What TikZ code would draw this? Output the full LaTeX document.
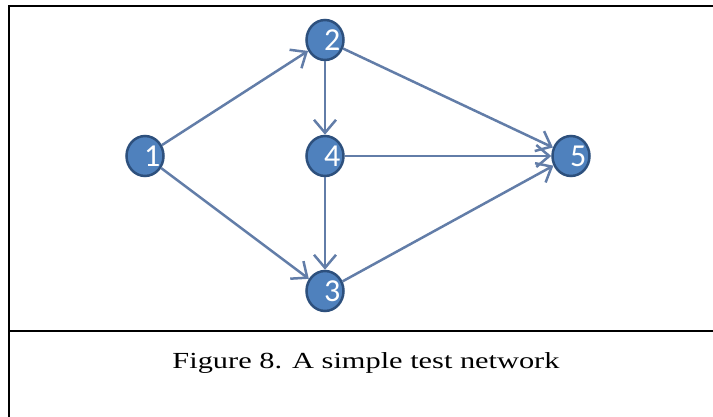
\documentclass[tikz,border=0pt]{standalone}
\usepackage{fontspec}
\setmainfont{Liberation Serif}
\newfontfamily\numfont{Carlito}
\usetikzlibrary{arrows.meta,shapes.geometric}
\definecolor{nodeblue}{RGB}{79,129,189}
\definecolor{nodeedge}{RGB}{45,80,125}
\definecolor{arcblue}{RGB}{98,125,168}
\newcommand{\vlabel}[1]{\makebox[0pt][l]{\kern-1pt #1}}

\begin{document}
\begin{tikzpicture}[x=1pt,y=-1pt,
  vertex/.style={ellipse,minimum width=37pt,minimum height=40pt,inner sep=0pt,fill=nodeblue,draw=nodeedge,line width=2.5pt,text=white,font=\numfont\fontsize{32}{32}\selectfont},
  arc/.style={draw=arcblue,line width=2.5pt,-{Straight Barb[length=13pt,width=22pt,line width=2.5pt]}},
  frame/.style={line width=2pt,black}]
\useasboundingbox (0,0) rectangle (713,417);
\draw[frame] (9,417) -- (9,6) -- (713,6);
\draw[frame] (9,331) -- (713,331);
\node[vertex] (n1) at (145,156) {\vlabel{1}};
\node[vertex] (n2) at (325,40) {\vlabel{2}};
\node[vertex] (n4) at (325,156) {\vlabel{4}};
\node[vertex] (n3) at (325,291) {\vlabel{3}};
\node[vertex] (n5) at (571,156) {\vlabel{5}};
\draw[arc] (n1) -- (n2);
\draw[arc] (n1) -- (n3);
\draw[arc] (n2) -- (n4);
\draw[arc] (n2) -- (n5);
\draw[arc] (n4) -- (n5);
\draw[arc] (n4) -- (n3);
\draw[arc] (n3) -- (n5);
\node[anchor=base,font=\fontsize{23}{23}\selectfont,xscale=1.32] (cap) at (366,368) {Figure 8. A simple test network};
\end{tikzpicture}
\end{document}
